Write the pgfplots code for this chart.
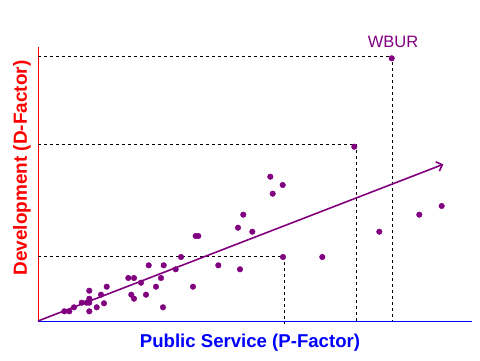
\documentclass[border=0pt]{standalone}
\usepackage{pgfplots}
\pgfplotsset{compat=1.18}
\usepackage{fontspec}
\setmainfont{Liberation Sans}
\usetikzlibrary{arrows.meta}
\definecolor{pur}{RGB}{128,0,128}
\begin{document}
\begin{tikzpicture}
\useasboundingbox (0,0) rectangle (480pt,360pt);
\begin{axis}[
  at={(38pt,39pt)}, anchor=south west,
  scale only axis, width=434pt, height=274pt,
  xmin=0, xmax=434, ymin=0, ymax=274,
  enlargelimits=false, hide axis, clip=false]
% axis lines
\addplot[red, line width=1pt] coordinates {(0,0) (0,274.3)};
\addplot[blue, line width=1pt] coordinates {(0,0) (433.7,0)};
% dashed guides
\addplot[black, line width=0.9pt, dash pattern=on 3pt off 3pt] coordinates {(0,264.3) (354.3,264.3) (354.3,0)};
\addplot[black, line width=0.9pt, dash pattern=on 3pt off 3pt] coordinates {(0,176.7) (318.3,176.7) (318.3,0)};
\addplot[black, line width=0.9pt, dash pattern=on 3pt off 3pt] coordinates {(0,64.7) (246.3,64.7) (246.3,-3)};
% trend arrow
\addplot[pur, line width=1.6pt, -{Straight Barb[length=5pt,width=10pt]}] coordinates {(0,0) (405.3,156.7)};
% points
\addplot[only marks, mark=*, mark size=2.8pt, pur, mark options={draw=pur, fill=pur}] coordinates {
(353.7,262.7) (316.3,174.3) (232.3,144.3) (244.7,136) (234.7,127.3)
(205.3,106.3) (200,93.3) (214.3,89.3) (157.7,85) (160.3,85)
(381.3,106.3) (403.7,115) (341.3,89.3) (284.3,64) (245,64) (143,64)
(110.7,55.7) (125.7,55.7) (180.3,55.7) (137.7,51.7) (202,51.7)
(90.3,43) (96,43) (123,43) (103,38.3) (118,34.3) (155,34.3) (68.7,34.3)
(51.3,30.3) (63,26.3) (93.3,26.3) (108,26.3) (96,22.3) (51.3,22.3)
(43.7,18.3) (48.7,18.3) (51.3,18.3) (66,17.7) (58.7,13.7) (36,13.7)
(125,13.7) (26.3,9.7) (31.3,9.7) (51.3,9.7)
};
\end{axis}
\node[text=pur, font=\fontsize{16.5}{18}\selectfont] at (393pt,318pt) {WBUR};
\node[text=blue, font=\fontsize{18.6}{20}\selectfont\bfseries] at (250pt,17pt) {Public Service (P-Factor)};
\node[text=red, rotate=90, font=\fontsize{19}{21}\selectfont\bfseries] at (22pt,192pt) {Development (D-Factor)};
\end{tikzpicture}
\end{document}
